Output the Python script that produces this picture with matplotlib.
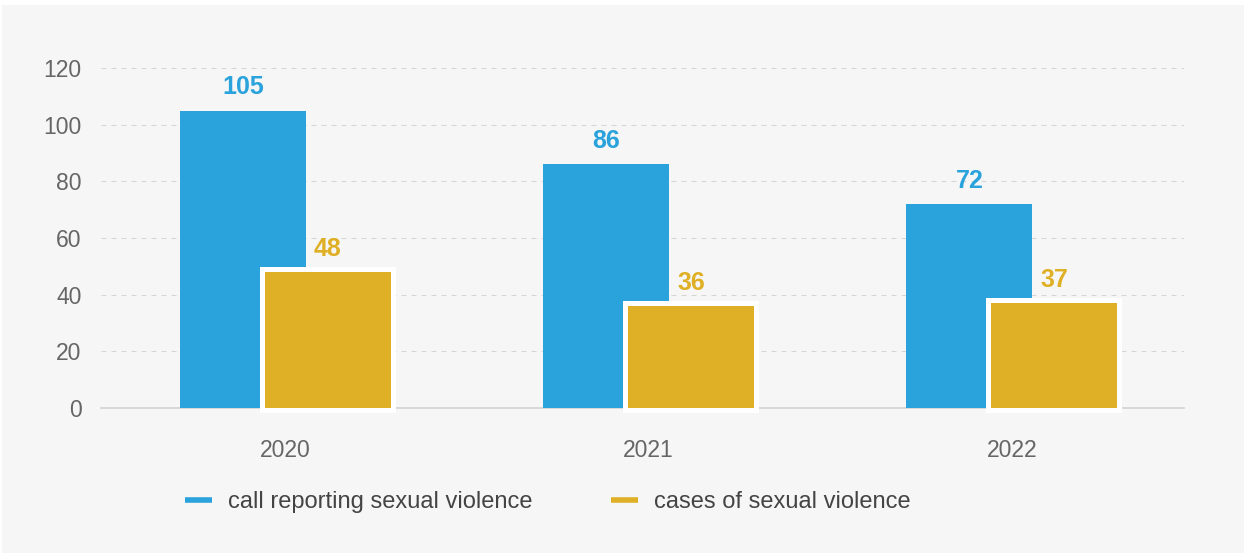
import numpy as np
import matplotlib.pyplot as plt
from matplotlib.lines import Line2D
from matplotlib.patches import Rectangle

plt.rcParams['font.family'] = ['Liberation Sans', 'DejaVu Sans']

years = ['2020', '2021', '2022']
calls = [105, 86, 72]
cases = [48, 36, 37]
series_names = ['call reporting sexual violence', 'cases of sexual violence']

blue = '#2aa2dc'
yellow = '#dfb025'
bg = '#f6f6f6'

fig = plt.figure(figsize=(12.44, 5.54), dpi=100, facecolor='white')
# grey panel behind the whole chart
fig.patches.append(Rectangle((2 / 1244, 1 / 554), 1, 1 - 6 / 554,
                             transform=fig.transFigure, facecolor=bg,
                             edgecolor='none', zorder=-5))

ax = fig.add_axes([101 / 1244, 1 - 408 / 554, 1083 / 1244, 340 / 554])
ax.set_facecolor('none')

x = np.arange(len(years))
width = 0.347
offset = 0.117

ax.bar(x - offset, calls, width, color=blue, zorder=2)
# white outline around the yellow bars, then the fill drawn again on top
ax.bar(x + offset, cases, width, color=yellow, edgecolor='white',
       linewidth=7.2, zorder=3, clip_on=False)
ax.bar(x + offset, cases, width, color=yellow, linewidth=0, zorder=4,
       clip_on=False)

for xi, v in zip(x, calls):
    ax.annotate(str(v), (xi - offset, v), xytext=(0, 8), textcoords='offset points',
                ha='center', va='bottom', color=blue, fontsize=18,
                fontweight='bold', zorder=5)
for xi, v in zip(x, cases):
    ax.annotate(str(v), (xi + offset, v), xytext=(0, 8), textcoords='offset points',
                ha='center', va='bottom', color=yellow, fontsize=18,
                fontweight='bold', zorder=5)

ax.set_ylim(0, 120)
ax.set_xlim(-0.508, 2.474)
ax.set_yticks(range(0, 121, 20))
ax.set_xticks(x)
ax.set_xticklabels(years)

for yv in range(20, 121, 20):
    ax.axhline(yv, color='#d6d6d6', lw=0.75, linestyle=(0, (4.8, 4.8)), zorder=1)

for s in ['top', 'right', 'left']:
    ax.spines[s].set_visible(False)
ax.spines['bottom'].set_color('#cfcfcf')
ax.spines['bottom'].set_linewidth(1.1)
ax.spines['bottom'].set_zorder(1)

ax.tick_params(axis='y', length=0, pad=14, labelsize=16.5, labelcolor='#666666')
ax.tick_params(axis='x', length=0, pad=22, labelsize=16.5, labelcolor='#666666')

handles = [Line2D([], [], color=blue, lw=4, solid_capstyle='butt'),
           Line2D([], [], color=yellow, lw=4, solid_capstyle='butt')]
fig.legend(handles, series_names, loc='center', bbox_to_anchor=(548 / 1244, 1 - 502 / 554),
           ncol=2, frameon=False, fontsize=17, labelcolor='#444444',
           handlelength=1.15, handletextpad=0.68, columnspacing=3.3)

fig.savefig('out.png', dpi=100, facecolor='white')
